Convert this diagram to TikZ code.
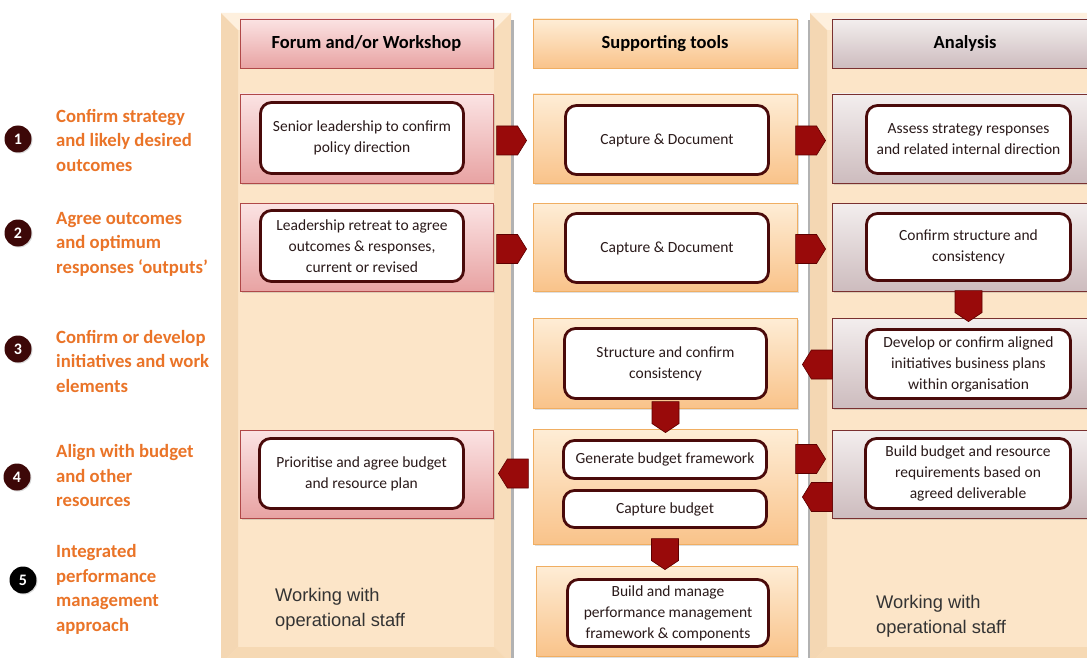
\documentclass[tikz,border=0pt]{standalone}
\usepackage{fontspec}
\setmainfont{Carlito}
\newfontfamily\arialf{Liberation Sans}
\usetikzlibrary{calc,shadows}
\definecolor{pface}{HTML}{FCE5C8}
\definecolor{pleft}{HTML}{F4D7B3}
\definecolor{ptop}{HTML}{FEF0DE}
\definecolor{pright}{HTML}{F8DDBB}
\definecolor{pbot}{HTML}{F6D9B4}
\definecolor{frmT}{HTML}{FBE3E3}
\definecolor{frmBt}{HTML}{E8A3A3}
\definecolor{frmD}{HTML}{B04848}
\definecolor{supT}{HTML}{FEEDD6}
\definecolor{supBt}{HTML}{F9C38A}
\definecolor{supD}{HTML}{F0AE62}
\definecolor{anaT}{HTML}{F3EEEE}
\definecolor{anaBt}{HTML}{CDBCBE}
\definecolor{anaD}{HTML}{7A3030}
\definecolor{inB}{HTML}{4A0A0A}
\definecolor{arrC}{HTML}{990A0A}
\definecolor{arrD}{HTML}{5E0000}
\definecolor{lblC}{HTML}{EA7428}
\definecolor{numC}{HTML}{3D0808}
\definecolor{txtC}{HTML}{2A1A1A}
\newcommand\pnl[4]{%
 \fill[pface] (#1,#2) rectangle (#3,#4);
 \fill[pleft] (#1,#2) -- (#1+17,#2+17) -- (#1+17,#4-17) -- (#1,#4) -- cycle;
 \fill[ptop] (#1,#2) -- (#3,#2) -- (#3-17,#2+17) -- (#1+17,#2+17) -- cycle;
 \fill[pright] (#3,#2) -- (#3,#4) -- (#3-17,#4-17) -- (#3-17,#2+17) -- cycle;
 \fill[pbot] (#1,#4) -- (#3,#4) -- (#3-17,#4-17) -- (#1+17,#4-17) -- cycle;}
\newcommand\arR[3][0]{\path[blk] let \p1=($(#2)+(0,#1)$), \p2=(#3.west) in
 (\x2-36pt,\y1+14.5pt) -- (\x2-15pt,\y1+14.5pt) -- (\x2-6pt,\y1)
 -- (\x2-15pt,\y1-14.5pt) -- (\x2-36pt,\y1-14.5pt) -- cycle;}
\newcommand\arL[3][0]{\path[blk] let \p1=($(#2)+(0,#1)$), \p2=(#3.east) in
 (\x2+35pt,\y1+14.5pt) -- (\x2+14pt,\y1+14.5pt) -- (\x2+5pt,\y1)
 -- (\x2+14pt,\y1-14.5pt) -- (\x2+35pt,\y1-14.5pt) -- cycle;}
\newcommand\arD[2]{\path[blk] let \p1=(#1.south), \p2=(#2.north) in
 (\x1-13.5pt,\y2+27pt) -- (\x1+13.5pt,\y2+27pt) -- (\x1+13.5pt,\y2+5pt) -- (\x1,\y2-4pt)
 -- (\x1-13.5pt,\y2+5pt) -- cycle;}
\begin{document}
\begin{tikzpicture}[x=1pt,y=-1pt,
  obox/.style={rectangle, line width=0.8pt, inner sep=0pt,
    drop shadow={opacity=0.25, shadow xshift=1.5pt, shadow yshift=-1.5pt},
    font=\bfseries\fontsize{18.5}{20}\selectfont, text=black},
  ofor/.style={obox, draw=frmD, top color=frmT, bottom color=frmBt},
  osup/.style={obox, draw=supD, top color=supT, bottom color=supBt},
  oana/.style={obox, draw=anaD, top color=anaT, bottom color=anaBt},
  ibox/.style={rectangle, rounded corners=11pt, draw=inB, line width=2.8pt, fill=white,
    align=center, inner sep=0pt, text=txtC, font=\fontsize{15.5}{21}\selectfont},
  lbl/.style={anchor=west, align=left, inner sep=0pt, text=lblC,
    font=\bfseries\fontsize{18.7}{24.5}\selectfont},
  numc/.style={circle, fill=numC, minimum size=27pt,
    inner sep=0pt, text=white, font=\bfseries\fontsize{16}{16}\selectfont,
    drop shadow={opacity=0.3, shadow xshift=1pt, shadow yshift=-1pt}},
  ops/.style={anchor=west, align=left, inner sep=0pt, text=black!80,
    font=\arialf\fontsize{18.3}{25}\selectfont},
  blk/.style={fill=arrC, draw=arrD, line width=0.6pt}]
\useasboundingbox (0,0) rectangle (1087,658);
\fill[white] (0,0) rectangle (1087,658);
% column panels
\pnl{221}{13}{511}{664}
\pnl{810}{13}{1110}{664}
\fill[black!30] (511,20) rectangle (513.5,658);
\fill[black!30] (807.5,20) rectangle (810,658);
% left labels
\node[numc] (n1) at (18,139) {1};
\node[numc] (n2) at (18,233) {2};
\node[numc] (n3) at (18,349) {3};
\node[numc] (n4) at (17,477) {4};
\node[numc, fill=black] (n5) at (23,580) {5};
\node[lbl] (l1) at (56,140) {Confirm strategy\\and likely desired\\outcomes};
\node[lbl] (l2) at (56,244) {Agree outcomes\\and optimum\\responses ‘outputs’};
\node[lbl] (l3) at (56,361) {Confirm or develop\\initiatives and work\\elements};
\node[lbl] (l4) at (56,476) {Align with budget\\and other\\resources};
\node[lbl] (l5) at (56,589.5) {Integrated\\performance\\management\\approach};
% headers
\node[ofor, minimum width=253, minimum height=49] (hF) at (366.5,43.5) {Forum and/or Workshop};
\node[osup, minimum width=264, minimum height=49] (hS) at (665,43.5) {Supporting tools};
\node[oana, minimum width=266, minimum height=49] (hA) at (965,43.5) {Analysis};
% outer row boxes
\node[ofor, minimum width=253, minimum height=89] (oF1) at (366.5,138.5) {};
\node[osup, minimum width=264, minimum height=89] (oS1) at (665,138.5) {};
\node[oana, minimum width=266, minimum height=89] (oA1) at (965,138.5) {};
\node[ofor, minimum width=253, minimum height=88] (oF2) at (366.5,247) {};
\node[osup, minimum width=264, minimum height=88] (oS2) at (665,247) {};
\node[oana, minimum width=266, minimum height=88] (oA2) at (965,247) {};
\node[osup, minimum width=264, minimum height=90] (oS3) at (665,363) {};
\node[oana, minimum width=266, minimum height=90] (oA3) at (965,363) {};
\node[ofor, minimum width=253, minimum height=88] (oF4) at (366.5,474) {};
\node[osup, minimum width=264, minimum height=115] (oS4) at (665,486.5) {};
\node[oana, minimum width=266, minimum height=88] (oA4) at (965,474) {};
\node[osup, minimum width=261, minimum height=90] (oS5) at (666.5,611) {};
% inner boxes
\node[ibox, minimum width=203, minimum height=71] (iF1) at (362,138) {Senior leadership to confirm\\policy direction};
\node[ibox, minimum width=203, minimum height=69] (iS1) at (667,140) {Capture \& Document};
\node[ibox, minimum width=204, minimum height=68] (iA1) at (968.5,139.5) {Assess strategy responses\\and related internal direction};
\node[ibox, minimum width=203, minimum height=71] (iF2) at (362,246) {Leadership retreat to agree\\outcomes \& responses,\\current or revised};
\node[ibox, minimum width=203, minimum height=69] (iS2) at (667,248) {Capture \& Document};
\node[ibox, minimum width=204, minimum height=67] (iA2) at (968.5,247) {Confirm structure and\\consistency};
\node[ibox, minimum width=202, minimum height=70] (iS3) at (665.5,363.5) {Structure and confirm\\consistency};
\node[ibox, minimum width=204, minimum height=69] (iA3) at (968.5,364) {Develop or confirm aligned\\initiatives business plans\\within organisation};
\node[ibox, minimum width=204, minimum height=70] (iF4) at (361.5,473.5) {Prioritise and agree budget\\and resource plan};
\node[ibox, minimum width=203, minimum height=38] (iS4a) at (665,459.5) {Generate budget framework};
\node[ibox, minimum width=203, minimum height=37] (iS4b) at (665,509) {Capture budget};
\node[ibox, minimum width=205, minimum height=70] (iA4) at (968,473.5) {Build budget and resource\\requirements based on\\agreed deliverable};
\node[ibox, minimum width=201, minimum height=67] (iS5) at (668,613) {Build and manage\\performance management\\framework \& components};
% bottom notes
\node[ops] (w1) at (275,609.5) {Working with\\operational staff};
\node[ops] (w2) at (876,616) {Working with\\operational staff};
% block arrows
\arR[2]{oF1}{oS1}
\arR[2]{oS1}{oA1}
\arR[2]{oF2}{oS2}
\arR[2]{oS2}{oA2}
\arD{iA2}{oA3}
\arL[1.5]{oA3}{oS3}
\arD{iS3}{oS4}
\arL[-13]{oS4}{oF4}
\arR[-27.5]{oS4}{oA4}
\arL[23]{oA4}{oS4}
\arD{iS4b}{oS5}
\end{tikzpicture}
\end{document}
